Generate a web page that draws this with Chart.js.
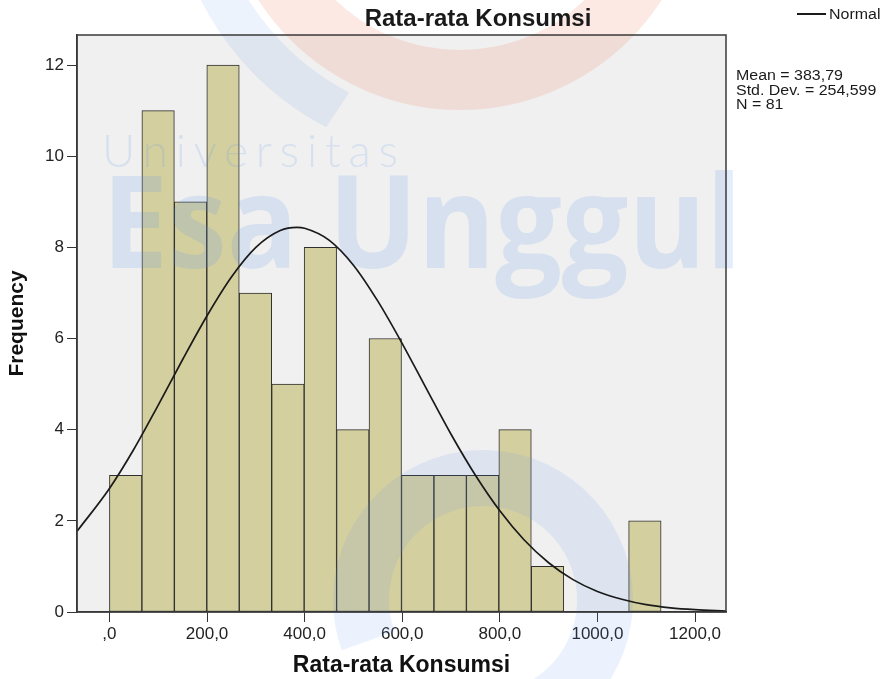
<!DOCTYPE html>
<html>
<head>
<meta charset="utf-8">
<title>Rata-rata Konsumsi</title>
<script src="https://cdn.jsdelivr.net/npm/chart.js@4.4.1/dist/chart.umd.min.js"></script>
<style>
    html, body { margin: 0; padding: 0; background: #ffffff; }
    #wrap { width: 888px; height: 679px; }
</style>
</head>
<body>
<div id="wrap"><canvas id="chartKonsumsi" width="888" height="679"></canvas></div>
<script>
// histogram bins (centre of each bin, width 66,5)
const binCenters = [33.25, 99.75, 166.25, 232.75, 299.25, 365.75, 432.25, 498.75, 565.25,
    631.75, 698.25, 764.75, 831.25, 897.75, 964.25, 1030.75, 1097.25];
const frequencies = [3, 11, 9, 12, 7, 5, 8, 4, 6, 3, 3, 3, 4, 1, 0, 0, 2];

// normal curve
const curveX = [-66.5, 0, 50, 100, 150, 200, 250, 300, 350, 384, 400, 450, 500, 550, 600,
    650, 700, 750, 800, 850, 900, 950, 1000, 1050, 1100, 1150, 1200, 1263.5];
const curveY = [1.77, 2.71, 3.57, 4.54, 5.54, 6.50, 7.35, 8.00, 8.37, 8.44, 8.42, 8.16, 7.61, 6.82, 5.89,
    4.89, 3.90, 3.00, 2.22, 1.58, 1.08, 0.71, 0.45, 0.28, 0.16, 0.09, 0.05, 0.02];

const xTickValues = [0, 200, 400, 600, 800, 1000, 1200];
const xTickLabels = [",0", "200,0", "400,0", "600,0", "800,0", "1000,0", "1200,0"];
const yTickValues = [0, 2, 4, 6, 8, 10, 12];

const chartTitle = "Rata-rata Konsumsi";
const xAxisTitle = "Rata-rata Konsumsi";
const yAxisTitle = "Frequency";
const statLines = ["Mean = 383,79", "Std. Dev. = 254,599", "N = 81"];
const curveLabel = "Normal";

const FONT = '"Liberation Sans", Arial, Helvetica, sans-serif';

// grey plot background + frame
const plotFrame = {
    id: "plotFrame",
    beforeDraw(chart) {
        const { ctx, chartArea: a } = chart;
        ctx.save();
        ctx.fillStyle = "#ffffff";
        ctx.fillRect(0, 0, chart.width, chart.height);
        ctx.fillStyle = "#f0f0f0";
        ctx.fillRect(a.left, a.top, a.right - a.left, a.bottom - a.top);
        ctx.restore();
    },
    afterDatasetsDraw(chart) {
        const { ctx, chartArea: a } = chart;
        ctx.save();
        ctx.strokeStyle = "#3a3a3a";
        ctx.lineWidth = 1.5;
        ctx.strokeRect(a.left, a.top, a.right - a.left, a.bottom - a.top);
        ctx.restore();
    }
};

// faint university watermark, painted between bars and curve
const watermark = {
    id: "watermark",
    afterDatasetDraw(chart, args) {
        if (args.index !== 1) return;
        const ctx = chart.ctx;
        ctx.save();

        // logo swooshes
        ctx.fillStyle = "rgba(240, 110, 70, 0.15)";
        ctx.beginPath();
        ctx.arc(460, -130, 240, 0, Math.PI, false);
        ctx.arc(460, -130, 180, Math.PI, 0, true);
        ctx.fill();

        // tapered blue stroke at the top left
        ctx.fillStyle = "rgba(87, 146, 240, 0.11)";
        ctx.beginPath();
        ctx.arc(460, -130, 290, 2.05, 2.8, false);
        ctx.arc(470, -140, 262, 2.8, 2.05, true);
        ctx.fill();

        // blue ring at the bottom
        ctx.fillStyle = "rgba(87, 146, 240, 0.12)";
        ctx.beginPath();
        ctx.arc(483, 600, 150, 2.8, 1.05 + Math.PI * 2, false);
        ctx.arc(483, 600, 94, 1.05 + Math.PI * 2, 2.8, true);
        ctx.fill();

        // words
        ctx.fillStyle = "rgba(87, 146, 240, 0.17)";
        ctx.textBaseline = "alphabetic";
        ctx.font = '300 46px Lato, "Open Sans", sans-serif';
        const word = "Universitas";
        const w0 = ctx.measureText(word).width;
        ctx.letterSpacing = ((296 - w0) / (word.length - 1)).toFixed(2) + "px";
        ctx.fillText(word, 102, 167);
        ctx.letterSpacing = "0px";

        ctx.font = 'bold 130px "Open Sans", "Noto Sans", sans-serif';
        const big = "Esa Unggul";
        const w1 = ctx.measureText(big).width;
        ctx.translate(102, 268);
        ctx.scale(640 / w1, 1);
        ctx.fillText(big, 0, 0);
        ctx.restore();
    }
};

// title, legend entry and summary statistics
const annotations = {
    id: "annotations",
    afterDraw(chart) {
        const ctx = chart.ctx;
        ctx.save();
        ctx.fillStyle = "#1a1a1a";
        ctx.textBaseline = "alphabetic";

        ctx.font = "bold 24px " + FONT;
        ctx.textAlign = "center";
        ctx.fillText(chartTitle, 478, 26);

        ctx.textAlign = "left";
        ctx.font = "14px " + FONT;
        const stretched = (text, x, y) => {
            ctx.save();
            ctx.translate(x, y);
            ctx.scale(1.14, 1);
            ctx.fillText(text, 0, 0);
            ctx.restore();
        };

        const line = chart.data.datasets[0];
        ctx.strokeStyle = line.borderColor;
        ctx.lineWidth = 2;
        ctx.beginPath();
        ctx.moveTo(797, 14);
        ctx.lineTo(826, 14);
        ctx.stroke();
        stretched(line.label, 829, 19);

        statLines.forEach((s, i) => stretched(s, 736, 80 + i * 14.5));
        ctx.restore();
    }
};

new Chart(document.getElementById("chartKonsumsi"), {
    type: "bar",
    data: {
        datasets: [
            {
                type: "line",
                label: curveLabel,
                data: curveX.map((x, i) => ({ x: x, y: curveY[i] })),
                borderColor: "#1a1a1a",
                borderWidth: 1.7,
                pointRadius: 0,
                fill: false,
                cubicInterpolationMode: "monotone"
            },
            {
                type: "bar",
                label: "Frequency",
                data: binCenters.map((x, i) => ({ x: x, y: frequencies[i] })),
                backgroundColor: "#d4cf9f",
                borderColor: "#2e2e2e",
                borderWidth: 1,
                borderSkipped: false,
                barPercentage: 1,
                categoryPercentage: 1
            }
        ]
    },
    options: {
        responsive: false,
        animation: false,
        devicePixelRatio: 1,
        layout: { padding: { top: 35, right: 162, bottom: 0, left: 0 } },
        plugins: { legend: { display: false }, tooltip: { enabled: false } },
        scales: {
            x: {
                type: "linear",
                min: -66.5,
                max: 1263.5,
                offset: false,
                afterBuildTicks: s => { s.ticks = xTickValues.map(v => ({ value: v })); },
                afterFit: s => { s.height = 67; },
                ticks: {
                    autoSkip: false,
                    maxRotation: 0,
                    padding: 2,
                    color: "#222",
                    font: { family: FONT, size: 17 },
                    callback: v => xTickLabels[xTickValues.indexOf(v)]
                },
                grid: { drawOnChartArea: false, drawTicks: true, tickLength: 10, color: "#333", offset: false },
                border: { display: true, color: "#333", width: 1.5 },
                title: {
                    display: true, text: xAxisTitle, color: "#111",
                    font: { family: FONT, size: 23, weight: "bold" },
                    padding: { top: 0, bottom: 0 }
                }
            },
            y: {
                min: 0,
                max: 12.66,
                afterBuildTicks: s => { s.ticks = yTickValues.map(v => ({ value: v })); },
                afterFit: s => { s.width = 77; },
                ticks: { padding: 3, color: "#222", font: { family: FONT, size: 17 } },
                grid: { drawOnChartArea: false, drawTicks: true, tickLength: 10, color: "#333" },
                border: { display: true, color: "#333", width: 1.5 },
                title: {
                    display: true, text: yAxisTitle, color: "#111",
                    font: { family: FONT, size: 21, weight: "bold" },
                    padding: { top: 5, bottom: 0 }
                }
            }
        }
    },
    plugins: [plotFrame, watermark, annotations]
});
</script>
</body>
</html>
